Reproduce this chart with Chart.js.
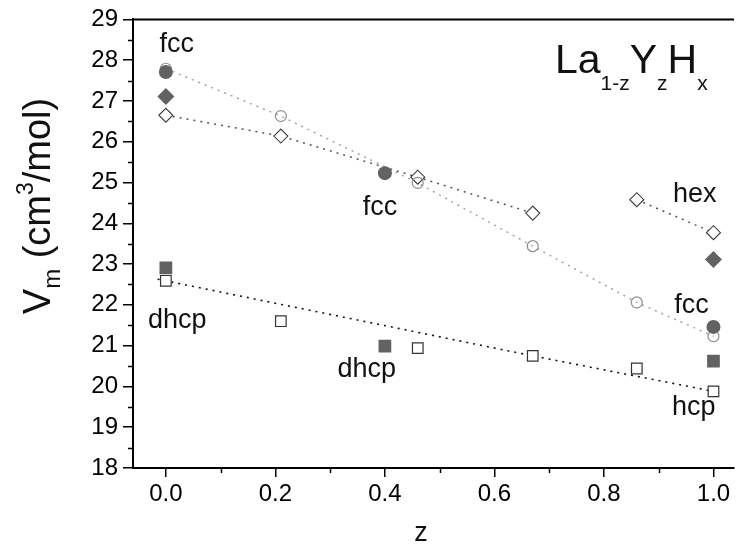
<!DOCTYPE html>
<html>
<head>
<meta charset="utf-8">
<script src="https://cdn.jsdelivr.net/npm/chart.js@4/dist/chart.umd.min.js"></script>
<style>
  body { margin: 0; background: #fff; }
  #wrap { width: 743px; height: 549px; }
</style>
</head>
<body>
<div id="wrap"><canvas id="vmChart" width="743" height="549"></canvas></div>
<script>
//molar volume of La(1-z)Y(z)Hx against z
//filled symbols - measured values
const fccZ = [0, 0.4, 1.0];
const fccV = [27.71, 25.23, 21.46];
const hexZ = [0, 1.0];
const hexV = [27.11, 23.11];
const dhcpZ = [0, 0.4, 1.0];
const dhcpV = [22.91, 20.99, 20.62];

//open symbols - the interpolated series
const openCircZ = [0, 0.21, 0.46, 0.67, 0.86, 1.0];
const openCircV = [27.79, 26.63, 24.99, 23.44, 22.06, 21.23];
const openDiaZ = [0, 0.21, 0.46, 0.67, 0.86, 1.0];
const openDiaV = [26.65, 26.14, 25.13, 24.25, 24.58, 23.77];
const openSqZ = [0, 0.21, 0.46, 0.67, 0.86, 1.0];
const openSqV = [22.59, 21.60, 20.94, 20.75, 20.44, 19.88];

//dotted guide lines (null breaks the diamond line in two)
const circLineZ = [0, 0.21, 0.46, 0.67, 0.86, 1.0];
const circLineV = [27.79, 26.63, 24.99, 23.44, 22.06, 21.23];
const diaLineZ = [0, 0.21, 0.46, 0.67, 0.76, 0.86, 1.0];
const diaLineV = [26.65, 26.14, 25.13, 24.25, null, 24.58, 23.77];
const sqLineZ = [-0.015, 0.67, 1.0];
const sqLineV = [22.63, 20.75, 19.88];

//axis ticks
const xTicks = [0, 0.2, 0.4, 0.6, 0.8, 1.0];
const xMinor = [0.1, 0.3, 0.5, 0.7, 0.9];
const yTicks = [18, 19, 20, 21, 22, 23, 24, 25, 26, 27, 28, 29];
const yMinor = [18.5, 19.5, 20.5, 21.5, 22.5, 23.5, 24.5, 25.5, 26.5, 27.5, 28.5];

//phase labels placed in data coordinates (centre x, baseline y)
const phaseText = ["fcc", "fcc", "hex", "fcc", "hcp", "dhcp", "dhcp"];
const phaseZ = [0.02, 0.391, 0.966, 0.96, 0.964, 0.021, 0.367];
const phaseV = [28.20, 24.20, 24.52, 21.79, 19.30, 21.44, 20.23];

const FONT = "'Liberation Sans', Arial, Helvetica, sans-serif";
const FILL = "#626262";

function toPoints(xs, ys) {
    return xs.map((x, i) => ({ x: x, y: ys[i] }));
}

//draws a string made of pieces with their own size and vertical shift
function drawPieces(ctx, pieces, x, y, centred) {
    let total = 0;
    pieces.forEach(p => {
        ctx.font = p.size + "px " + FONT;
        p.w = ctx.measureText(p.t).width;
        total += p.w;
    });
    let cx = centred ? x - total / 2 : x;
    ctx.textAlign = "left";
    ctx.textBaseline = "alphabetic";
    pieces.forEach(p => {
        ctx.font = p.size + "px " + FONT;
        ctx.fillText(p.t, cx, y + (p.dy || 0));
        cx += p.w;
    });
}

const extras = {
    id: "extras",
    afterDraw(chart) {
        const ctx = chart.ctx;
        const area = chart.chartArea;
        const xs = chart.scales.x, ys = chart.scales.y;
        ctx.save();
        ctx.strokeStyle = "#000";
        //top frame line
        ctx.lineWidth = 2;
        ctx.beginPath();
        ctx.moveTo(area.left - 1, area.top);
        ctx.lineTo(area.right, area.top);
        ctx.stroke();
        //minor ticks
        ctx.lineWidth = 1.5;
        ctx.beginPath();
        xMinor.forEach(v => {
            const px = Math.round(xs.getPixelForValue(v)) + 0.5;
            ctx.moveTo(px, area.bottom);
            ctx.lineTo(px, area.bottom + 5);
        });
        yMinor.forEach(v => {
            const py = Math.round(ys.getPixelForValue(v)) + 0.5;
            ctx.moveTo(area.left, py);
            ctx.lineTo(area.left - 5, py);
        });
        ctx.stroke();

        ctx.fillStyle = "#111";
        //phase labels
        ctx.font = "27px " + FONT;
        ctx.textAlign = "center";
        ctx.textBaseline = "alphabetic";
        phaseText.forEach((t, i) => {
            ctx.fillText(t, xs.getPixelForValue(phaseZ[i]), ys.getPixelForValue(phaseV[i]));
        });

        //formula in the top right corner
        drawPieces(ctx, [
            { t: "La", size: 41 },
            { t: "1-z", size: 21, dy: 17 },
            { t: "Y", size: 41 },
            { t: "z", size: 21, dy: 17 },
            { t: "H", size: 41 },
            { t: "x", size: 21, dy: 17 }
        ], 555, 73, false);

        //x axis title
        ctx.font = "27px " + FONT;
        ctx.textAlign = "center";
        ctx.fillText("z", 421, 541);

        //y axis title, rotated
        ctx.translate(50, 206);
        ctx.rotate(-Math.PI / 2);
        drawPieces(ctx, [
            { t: "V", size: 38 },
            { t: "m", size: 24, dy: 10 },
            { t: " (cm", size: 38 },
            { t: "3", size: 23, dy: -17 },
            { t: "/mol)", size: 38 }
        ], 0, 0, true);
        ctx.restore();
    }
};

const ctx = document.getElementById("vmChart").getContext("2d");
new Chart(ctx, {
    type: "scatter",
    data: {
        datasets: [
            {
                data: toPoints(fccZ, fccV),
                pointStyle: "circle", pointRadius: 7,
                backgroundColor: FILL, borderColor: FILL, borderWidth: 0
            },
            {
                data: toPoints(hexZ, hexV),
                pointStyle: "rectRot", pointRadius: 8.5,
                backgroundColor: FILL, borderColor: FILL, borderWidth: 0
            },
            {
                data: toPoints(dhcpZ, dhcpV),
                pointStyle: "rect", pointRadius: 9,
                backgroundColor: FILL, borderColor: FILL, borderWidth: 0
            },
            {
                data: toPoints(openCircZ, openCircV),
                pointStyle: "circle", pointRadius: 5.5,
                backgroundColor: "rgba(255,255,255,0)", borderColor: "#8e8e8e", borderWidth: 1.2
            },
            {
                data: toPoints(openDiaZ, openDiaV),
                pointStyle: "rectRot", pointRadius: 7,
                backgroundColor: "#fff", borderColor: "#3c3c3c", borderWidth: 1.1
            },
            {
                data: toPoints(openSqZ, openSqV),
                pointStyle: "rect", pointRadius: 7.5,
                backgroundColor: "#fff", borderColor: "#333", borderWidth: 1.2
            },
            {
                data: toPoints(circLineZ, circLineV),
                showLine: true, pointRadius: 0, borderColor: "#a4a4a4",
                borderWidth: 1.5, borderDash: [2, 5]
            },
            {
                data: toPoints(diaLineZ, diaLineV),
                showLine: true, spanGaps: false, pointRadius: 0, borderColor: "#555",
                borderWidth: 1.5, borderDash: [2, 5]
            },
            {
                data: toPoints(sqLineZ, sqLineV),
                showLine: true, pointRadius: 0, borderColor: "#111",
                borderWidth: 1.6, borderDash: [2, 5]
            }
        ]
    },
    options: {
        responsive: false,
        animation: false,
        layout: { padding: { top: 19, right: 0, left: 0, bottom: 0 } },
        plugins: {
            legend: { display: false },
            tooltip: { enabled: false }
        },
        scales: {
            x: {
                type: "linear",
                min: -0.06,
                max: 1.0375,
                afterFit: (s) => { s.height = 81; },
                afterBuildTicks: (s) => { s.ticks = xTicks.map(v => ({ value: v })); },
                ticks: {
                    callback: (v) => Number(v).toFixed(1),
                    font: { family: FONT, size: 24 },
                    color: "#000",
                    padding: 3,
                    maxRotation: 0,
                    autoSkip: false
                },
                grid: { drawOnChartArea: false, tickLength: 9, color: "#000", lineWidth: 1.5 },
                border: { color: "#000", width: 2 }
            },
            y: {
                type: "linear",
                min: 18,
                max: 29,
                afterFit: (s) => { s.width = 133; },
                afterBuildTicks: (s) => { s.ticks = yTicks.map(v => ({ value: v })); },
                ticks: {
                    font: { family: FONT, size: 24 },
                    color: "#000",
                    padding: 5,
                    autoSkip: false
                },
                grid: { drawOnChartArea: false, tickLength: 10, color: "#000", lineWidth: 1.5 },
                border: { color: "#000", width: 2 }
            }
        }
    },
    plugins: [extras]
});
</script>
</body>
</html>
